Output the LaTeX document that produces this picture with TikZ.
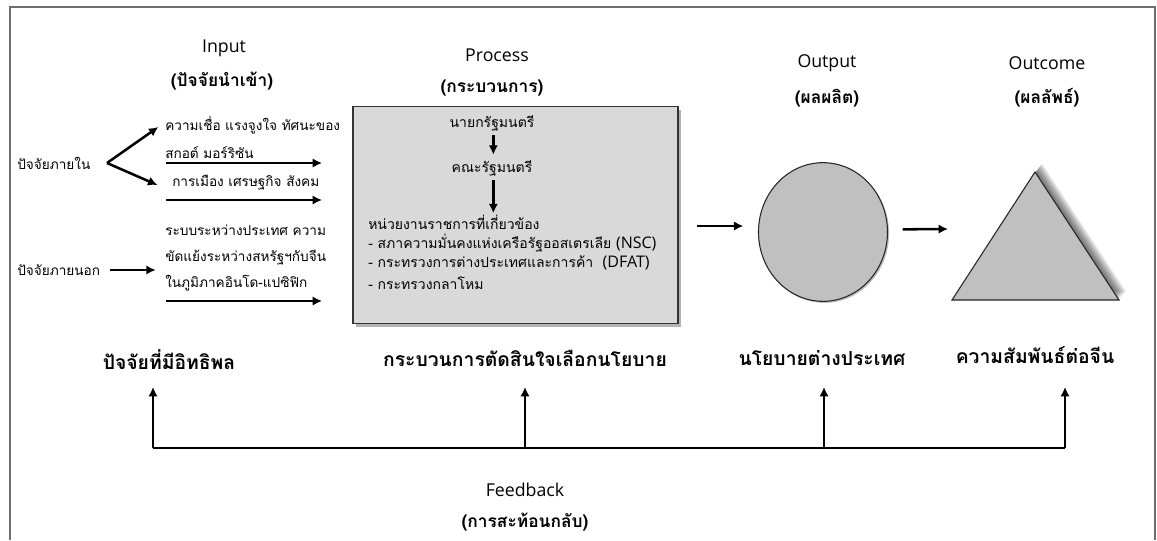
\documentclass[tikz,border=0pt]{standalone}
\usepackage{fontspec}
\setmainfont[Script=Thai]{Loma}
\newfontfamily\latinfont{Open Sans}
\usetikzlibrary{arrows.meta,shadows,shapes.geometric,positioning}
\definecolor{FrameGray}{RGB}{110,110,110}
\definecolor{BoxGray}{RGB}{217,217,217}
\definecolor{ShapeGray}{RGB}{192,192,192}
\tikzset{
  framebox/.style={draw=FrameGray, line width=1.3pt},
  heading/.style={font=\latinfont\fontsize{13.3}{15}\selectfont, inner sep=0pt},
  subhead/.style={font=\bfseries\fontsize{13}{15}\selectfont, inner sep=0pt},
  thai/.style={font=\fontsize{10.2}{12}\selectfont, inner sep=0pt},
  boxtext/.style={font=\fontsize{10.5}{12}\selectfont, inner sep=0pt},
  result/.style={font=\bfseries\fontsize{14.5}{16}\selectfont, inner sep=0pt},
  arr/.style={-{Latex[length=7pt,width=7pt]}, line width=1.9pt},
  fbline/.style={line width=1.9pt},
  procbox/.style={draw=black!80, fill=BoxGray, line width=0.8pt,
    drop shadow={shadow xshift=2.5pt, shadow yshift=-2.5pt, opacity=.6}},
  shapefill/.style={draw=black!85, fill=ShapeGray, line width=0.8pt}
}
\begin{document}
\begin{tikzpicture}[x=0.75pt,y=-0.75pt]
\useasboundingbox (0,0) rectangle (1157,540);
% frame
\draw[framebox] (10,540) |- (1155,7) -- (1155,540);

% headings
\node[heading] (inhd) at (224,48) {Input};
\node[subhead] (insub) at (222,81) {(ปัจจัยนำเข้า)};
\node[heading] (prochd) at (497,55) {Process};
\node[subhead] (procsub) at (492,88) {(กระบวนการ)};
\node[heading] (outhd) at (827,63) {Output};
\node[subhead] (outsub) at (827,98) {(ผลผลิต)};
\node[heading] (outchd) at (1047,63) {Outcome};
\node[subhead] (outcsub) at (1047,98) {(ผลลัพธ์)};

% input side
\node[thai, anchor=west] (inner) at (17,163) {ปัจจัยภายใน};
\node[thai, anchor=west] (belief1) at (165,125) {ความเชื่อ แรงจูงใจ ทัศนะของ};
\node[thai, anchor=west] (belief2) at (165,153) {สกอต์ มอร์ริซัน};
\node[thai, anchor=west] (polit) at (172,183) {การเมือง เศรษฐกิจ สังคม};
\coordinate (innerv) at (107,163);
\draw[arr] (innerv) -- ([xshift=-5pt,yshift=-1.5pt]belief1.west);
\draw[arr] (innerv) -- ([xshift=-11pt,yshift=-1.5pt]polit.west);
\coordinate (ia1) at (166,163); \coordinate (ib1) at (322,163);
\coordinate (ia2) at (166,200); \coordinate (ib2) at (322,200);
\draw[arr] (ia1) -- (ib1);
\draw[arr] (ia2) -- (ib2);

\node[thai, anchor=west] (outer) at (17,270) {ปัจจัยภายนอก};
\node[thai, anchor=west] (intl1) at (165,230) {ระบบระหว่างประเทศ ความ};
\node[thai, anchor=west] (intl2) at (165,257) {ขัดแย้งระหว่างสหรัฐฯกับจีน};
\node[thai, anchor=west] (intl3) at (165,283) {ในภูมิภาคอินโด-แปซิฟิก};
\draw[arr] ([xshift=7pt]outer.east) -- ([xshift=-7pt]outer.east -| intl2.west);
\coordinate (ia3) at (166,301); \coordinate (ib3) at (322,301);
\draw[arr] (ia3) -- (ib3);

% process box
\node[procbox, minimum width=243.75pt, minimum height=163pt] (pbox) at (515.5,215) {};
\node[boxtext] (pm) at (492,123) {นายกรัฐมนตรี};
\node[boxtext] (cab) at (492,168) {คณะรัฐมนตรี};
\node[boxtext, anchor=west] (agency) at (368,222) {หน่วยงานราชการที่เกี่ยวข้อง};
\node[boxtext, anchor=west] (nsc) at (368,243) {- สภาความมั่นคงแห่งเครือรัฐออสเตรเลีย {\latinfont\fontsize{12}{12}\selectfont (NSC)}};
\node[boxtext, anchor=west] (dfat) at (368,263) {- กระทรวงการต่างประเทศและการค้า~ {\latinfont\fontsize{12}{12}\selectfont (DFAT)}};
\node[boxtext, anchor=west] (def) at (368,283) {- กระทรวงกลาโหม};
\draw[arr] ([xshift=1pt,yshift=-3pt]pm.south) -- ([xshift=1pt,yshift=4pt]cab.north);
\draw[arr] ([xshift=1pt,yshift=-3pt]cab.south) -- ([xshift=1pt,yshift=1pt]cab.south |- agency.north);

% output and outcome
\node[shapefill, ellipse, minimum width=96.75pt, minimum height=104pt,
  drop shadow={shadow xshift=1.2pt, shadow yshift=-1.2pt, opacity=.5}] (policy) at (823,232) {};
\draw[arr] ([xshift=14pt,yshift=-8.25pt]pbox.east) -- ([xshift=-11pt,yshift=4.5pt]policy.west);
\coordinate (tritop) at (1035,172);
\coordinate (triright) at (1119,300);
\coordinate (trileft) at (952,300);
% soft shadow of the triangle
\foreach \s in {1,...,7}
  \fill[black, opacity=.1] ([shift={(\s,-1.2*\s)}]tritop) -- ([shift={(\s,-1.2*\s)}]triright)
    -- ([shift={(\s,-1.2*\s)}]trileft) -- cycle;
\filldraw[shapefill] (tritop) -- (triright) -- (trileft) -- cycle;
\draw[arr] ([xshift=11pt,yshift=2pt]policy.east) -- ([xshift=-3pt]trileft |- 0,229);

% results
\node[result] (res1) at (169,360) {ปัจจัยที่มีอิทธิพล};
\node[result] (res2) at (525,358) {กระบวนการตัดสินใจเลือกนโยบาย};
\node[result] (res3) at (822,358) {นโยบายต่างประเทศ};
\node[result] (res4) at (1035,355) {ความสัมพันธ์ต่อจีน};

% feedback
\coordinate (fb1) at (153,448); \coordinate (fb2) at (525,448);
\coordinate (fb3) at (824,448); \coordinate (fb4) at (1065,448);
\draw[fbline] (fb1) -- (fb4);
\foreach \i in {1,...,4}
  \draw[arr] (fb\i) -- ++(0,-61);
\node[heading] (fbhd) at (525,490) {Feedback};
\node[subhead] (fbsub) at (525,522) {(การสะท้อนกลับ)};
\end{tikzpicture}
\end{document}
